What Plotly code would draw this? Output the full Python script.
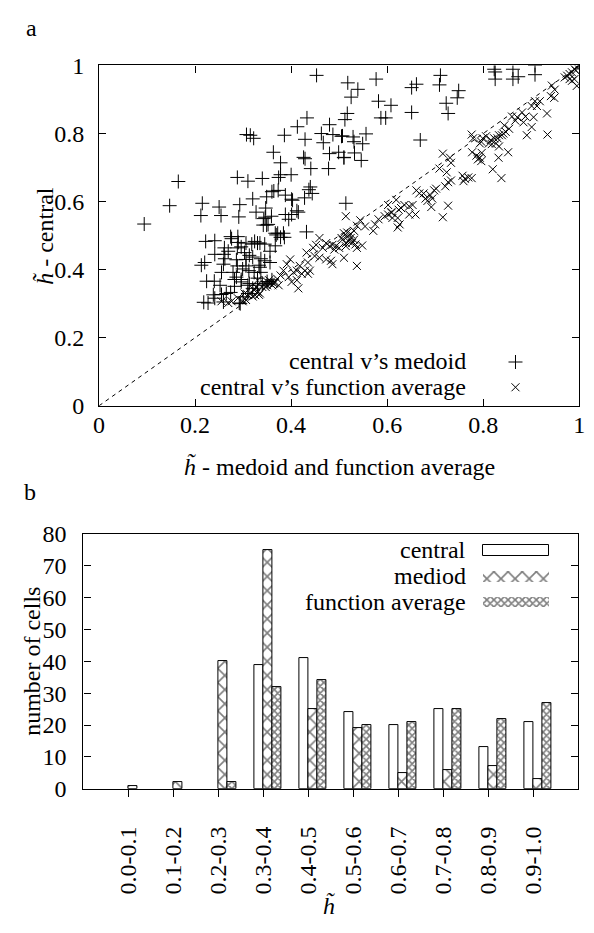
import plotly.graph_objects as go

W, H = 594, 933
FONT = "'Liberation Serif', 'Times New Roman', 'DejaVu Serif', serif"
FS = 24

# ---------------- panel a : scatter data ----------------
# "+" : h~ of central (y) vs h~ of medoid (x)
MEDOID_X = [
    0.453, 0.433, 0.413, 0.480, 0.307, 0.315, 0.322, 0.386, 0.463, 0.487, 0.505, 0.429, 0.467,
    0.363, 0.426, 0.429, 0.480, 0.499, 0.510, 0.378, 0.441, 0.478, 0.288, 0.310, 0.340, 0.374,
    0.378, 0.400, 0.165, 0.440, 0.437, 0.444, 0.360, 0.373, 0.364, 0.349, 0.388, 0.401, 0.428,
    0.320, 0.147, 0.215, 0.250, 0.293, 0.347, 0.212, 0.254, 0.291, 0.327, 0.346, 0.359, 0.388,
    0.401, 0.415, 0.395, 0.094, 0.342, 0.349, 0.352, 0.432, 0.367, 0.384,
    0.518, 0.577, 0.539, 0.525, 0.651, 0.661, 0.711, 0.709, 0.823, 0.825, 0.825, 0.862, 0.862,
    0.873, 0.908, 0.908, 0.749, 0.746, 0.582, 0.608, 0.723, 0.727, 0.517, 0.512, 0.651, 0.587,
    0.597, 0.507, 0.529, 0.531, 0.549, 0.556, 0.669, 0.532, 0.510, 0.546, 0.514, 0.403, 0.412,
    0.343, 0.241, 0.276, 0.290, 0.296, 0.288, 0.261, 0.269, 0.318, 0.330, 0.345, 0.356, 0.367,
    0.372, 0.378, 0.386, 0.369, 0.303, 0.313, 0.320, 0.262, 0.259, 0.286, 0.288, 0.337, 0.345,
    0.356, 0.333, 0.213, 0.220, 0.255, 0.279, 0.286, 0.299, 0.312, 0.282, 0.296, 0.335, 0.337,
    0.240, 0.252, 0.282, 0.310, 0.330, 0.238, 0.265, 0.274, 0.227, 0.259, 0.294,
    0.222, 0.274, 0.289, 0.306, 0.324, 0.335, 0.241, 0.260, 0.224, 0.218, 0.241, 0.255, 0.292,
    0.296, 0.313, 0.323, 0.330, 0.306, 0.306, 0.320, 0.340, 0.350, 0.360, 0.310, 0.300,
]
MEDOID_CENTRAL_Y = [
    0.971, 0.846, 0.820, 0.826, 0.797, 0.795, 0.786, 0.795, 0.800, 0.797, 0.792, 0.783, 0.773,
    0.745, 0.730, 0.726, 0.741, 0.745, 0.730, 0.714, 0.697, 0.697, 0.671, 0.660, 0.668, 0.671,
    0.679, 0.679, 0.659, 0.643, 0.635, 0.624, 0.629, 0.633, 0.631, 0.614, 0.619, 0.607, 0.611,
    0.608, 0.588, 0.595, 0.584, 0.591, 0.581, 0.559, 0.559, 0.555, 0.569, 0.554, 0.557, 0.562,
    0.562, 0.569, 0.548, 0.534, 0.531, 0.531, 0.533, 0.511, 0.507, 0.507,
    0.949, 0.960, 0.930, 0.907, 0.935, 0.945, 0.971, 0.943, 0.989, 0.981, 0.960, 0.989, 0.960,
    0.967, 0.973, 1.000, 0.926, 0.905, 0.895, 0.883, 0.889, 0.859, 0.859, 0.841, 0.862, 0.846,
    0.846, 0.793, 0.790, 0.776, 0.770, 0.799, 0.781, 0.743, 0.729, 0.721, 0.595, 0.604, 0.573,
    0.550, 0.485, 0.491, 0.480, 0.467, 0.464, 0.464, 0.454, 0.475, 0.478, 0.475, 0.454, 0.470,
    0.507, 0.495, 0.495, 0.502, 0.450, 0.442, 0.437, 0.432, 0.416, 0.429, 0.411, 0.432, 0.426,
    0.421, 0.413, 0.413, 0.421, 0.392, 0.392, 0.378, 0.402, 0.397, 0.371, 0.371, 0.407, 0.392,
    0.366, 0.354, 0.351, 0.354, 0.375, 0.326, 0.330, 0.333, 0.302, 0.305, 0.300,
    0.483, 0.497, 0.497, 0.478, 0.483, 0.478, 0.445, 0.445, 0.366, 0.304, 0.316, 0.327, 0.302,
    0.364, 0.359, 0.392, 0.354, 0.411, 0.430, 0.345, 0.360, 0.365, 0.370, 0.330, 0.320,
]

# "x" : h~ of central (y) vs h~ of function average (x)
FAVG_X = [
    0.990, 0.995, 0.985, 0.980, 0.975, 0.990, 0.985, 0.995, 0.970, 1.000, 0.993, 0.980,
    0.943, 0.949, 0.941, 0.948, 0.908, 0.918, 0.901, 0.912, 0.933, 0.934, 0.881, 0.871, 0.867,
    0.884, 0.905, 0.891, 0.901, 0.888, 0.860,
    0.844, 0.854, 0.839, 0.842, 0.847, 0.833, 0.830, 0.823, 0.827, 0.816, 0.812, 0.799, 0.796,
    0.793, 0.776, 0.779, 0.806,
    0.777, 0.786, 0.793, 0.796, 0.789, 0.797, 0.833, 0.832, 0.852, 0.820, 0.838, 0.818,
    0.716, 0.731, 0.733, 0.709, 0.724, 0.727, 0.733, 0.721, 0.757, 0.762, 0.769, 0.776, 0.759,
    0.661, 0.667, 0.676, 0.680, 0.690, 0.698, 0.702, 0.694, 0.684, 0.692, 0.727, 0.716,
    0.653, 0.646, 0.636, 0.629, 0.624, 0.619, 0.609, 0.602, 0.611, 0.622, 0.626, 0.622, 0.646,
    0.659, 0.595, 0.602,
    0.575, 0.582, 0.554, 0.571, 0.537, 0.531, 0.514, 0.517, 0.524, 0.544, 0.609,
    0.510, 0.517, 0.524, 0.531, 0.520, 0.527, 0.534, 0.514, 0.537, 0.548, 0.505, 0.510, 0.537,
    0.500, 0.507, 0.514,
    0.459, 0.473, 0.480, 0.486, 0.493, 0.490, 0.466, 0.452, 0.446,
    0.483, 0.486, 0.473, 0.459, 0.449,
    0.432, 0.435, 0.439, 0.429, 0.422, 0.435, 0.418, 0.412, 0.405,
    0.398, 0.391, 0.384, 0.378, 0.395, 0.401, 0.412, 0.415, 0.371, 0.364, 0.374,
    0.354, 0.357, 0.361, 0.350, 0.344, 0.347, 0.340, 0.352, 0.358, 0.365,
    0.330, 0.327, 0.323, 0.333, 0.316, 0.310, 0.320, 0.303, 0.306, 0.299, 0.289,
    0.269, 0.276, 0.255, 0.330, 0.335, 0.325,
]
FAVG_CENTRAL_Y = [
    0.990, 0.995, 0.980, 0.975, 0.970, 0.960, 0.955, 0.940, 0.965, 1.000, 0.985, 0.960,
    0.941, 0.929, 0.910, 0.905, 0.895, 0.895, 0.881, 0.881, 0.859, 0.797, 0.862, 0.848, 0.838,
    0.833, 0.848, 0.795, 0.819, 0.850, 0.850,
    0.824, 0.814, 0.795, 0.800, 0.805, 0.795, 0.786, 0.786, 0.771, 0.781, 0.771, 0.786, 0.776,
    0.771, 0.797, 0.786, 0.792,
    0.745, 0.735, 0.729, 0.719, 0.724, 0.743, 0.762, 0.729, 0.745, 0.695, 0.669, 0.769,
    0.741, 0.729, 0.714, 0.697, 0.686, 0.657, 0.662, 0.645, 0.676, 0.667, 0.671, 0.669, 0.660,
    0.633, 0.624, 0.624, 0.609, 0.619, 0.633, 0.638, 0.609, 0.602, 0.584, 0.588, 0.554,
    0.590, 0.586, 0.590, 0.581, 0.576, 0.605, 0.567, 0.562, 0.552, 0.552, 0.533, 0.524, 0.562,
    0.562, 0.557, 0.590,
    0.533, 0.548, 0.527, 0.514, 0.529, 0.514, 0.557, 0.509, 0.505, 0.545, 0.569,
    0.507, 0.497, 0.493, 0.488, 0.483, 0.479, 0.474, 0.469, 0.464, 0.471, 0.493, 0.435, 0.411,
    0.464, 0.488, 0.478,
    0.493, 0.478, 0.469, 0.473, 0.469, 0.459, 0.464, 0.473, 0.464,
    0.426, 0.416, 0.430, 0.435, 0.440,
    0.450, 0.421, 0.397, 0.397, 0.388, 0.388, 0.411, 0.397, 0.392,
    0.430, 0.416, 0.397, 0.383, 0.378, 0.364, 0.369, 0.345, 0.373, 0.359, 0.354,
    0.369, 0.359, 0.354, 0.354, 0.359, 0.349, 0.349, 0.362, 0.365, 0.362,
    0.369, 0.349, 0.340, 0.326, 0.330, 0.326, 0.321, 0.330, 0.311, 0.307, 0.316,
    0.302, 0.307, 0.307, 0.335, 0.330, 0.325,
]
DIAG = [0, 1]
A_TICKS = [0, 0.2, 0.4, 0.6, 0.8, 1]

# ---------------- panel b : histogram data ----------------
BINS = ["0.0-0.1", "0.1-0.2", "0.2-0.3", "0.3-0.4", "0.4-0.5",
        "0.5-0.6", "0.6-0.7", "0.7-0.8", "0.8-0.9", "0.9-1.0"]
CENTRAL = [0, 0, 0, 39, 41, 24, 20, 25, 13, 21]
MEDIOD = [1, 2, 40, 75, 25, 19, 5, 6, 7, 3]
FUNC_AVG = [0, 0, 2, 32, 34, 20, 21, 25, 22, 27]
B_TICKS = [0, 10, 20, 30, 40, 50, 60, 70, 80]
XPOS = list(range(len(BINS)))


def px(v):
    return v / W


def py(v):
    return 1 - v / H


BLACK = "black"
fig = go.Figure()

# ---- panel a traces ----
fig.add_trace(go.Scatter(x=DIAG, y=DIAG, mode="lines",
                         line=dict(color=BLACK, width=1, dash="4px,4px"),
                         xaxis="x", yaxis="y", showlegend=False, hoverinfo="skip"))
MARK_PLUS = dict(symbol="cross-thin", size=10, color=BLACK, line=dict(color=BLACK, width=1))
MARK_X = dict(symbol="x-thin", size=8, color=BLACK, line=dict(color=BLACK, width=1))
fig.add_trace(go.Scatter(x=MEDOID_X, y=MEDOID_CENTRAL_Y, mode="markers", marker=MARK_PLUS,
                         xaxis="x", yaxis="y", showlegend=False))
fig.add_trace(go.Scatter(x=FAVG_X, y=FAVG_CENTRAL_Y, mode="markers", marker=MARK_X,
                         xaxis="x", yaxis="y", showlegend=False))


# ---- panel b traces ----
def outline(vals):
    # no outline for empty (zero-height) bars
    return dict(color=BLACK, width=[1 if v else 0 for v in vals])


PAT_MEDIOD = dict(shape="x", size=10, solidity=0.3, fgcolor=BLACK,
                  bgcolor="white", fillmode="overlay")
PAT_FAVG = dict(shape="x", size=5, solidity=0.55, fgcolor=BLACK,
                bgcolor="white", fillmode="overlay")
BW = 0.2
fig.add_trace(go.Bar(x=XPOS, y=CENTRAL, offset=-BW, width=BW,
                     marker=dict(color="white", line=outline(CENTRAL)),
                     xaxis="x2", yaxis="y2", showlegend=False))
fig.add_trace(go.Bar(x=XPOS, y=MEDIOD, offset=0, width=BW,
                     marker=dict(color="white", line=outline(MEDIOD), pattern=PAT_MEDIOD),
                     xaxis="x2", yaxis="y2", showlegend=False))
fig.add_trace(go.Bar(x=XPOS, y=FUNC_AVG, offset=BW, width=BW,
                     marker=dict(color="white", line=outline(FUNC_AVG), pattern=PAT_FAVG),
                     xaxis="x2", yaxis="y2", showlegend=False))

# ---- legend keys (drawn on a hidden pixel-space axis) ----
KEY_X_A = 520
KEY_Y_A = [359, 385]
fig.add_trace(go.Scatter(x=[KEY_X_A], y=[KEY_Y_A[0]], mode="markers", marker=MARK_PLUS,
                         xaxis="x3", yaxis="y3", showlegend=False, hoverinfo="skip"))
fig.add_trace(go.Scatter(x=[KEY_X_A], y=[KEY_Y_A[1]], mode="markers", marker=MARK_X,
                         xaxis="x3", yaxis="y3", showlegend=False, hoverinfo="skip"))
KEY_B_START, KEY_B_LEN, KEY_B_H = 487, 67, 11
KEY_Y_B = [553, 580, 606]
KEY_STYLES = [
    dict(color="white", line=dict(color=BLACK, width=1)),
    dict(color="white", line=dict(width=0), pattern=PAT_MEDIOD),
    dict(color="white", line=dict(width=0), pattern=PAT_FAVG),
]
for ky, sty in zip(KEY_Y_B, KEY_STYLES):
    fig.add_trace(go.Bar(orientation="h", y=[ky], x=[KEY_B_LEN], base=[KEY_B_START],
                         width=KEY_B_H, marker=sty, xaxis="x3", yaxis="y3",
                         showlegend=False, hoverinfo="skip"))

TF = dict(family=FONT, size=FS, color=BLACK)
common = dict(showgrid=False, zeroline=False, showline=True, linecolor=BLACK, linewidth=1.2,
              tickcolor=BLACK, ticklen=7, tickwidth=1, tickfont=TF)

fig.update_layout(
    width=W, height=H, margin=dict(l=0, r=0, t=0, b=0),
    paper_bgcolor="white", plot_bgcolor="rgba(0,0,0,0)",
    barmode="overlay", bargap=0, showlegend=False,
    font=TF,
    xaxis=dict(common, domain=[px(95), px(585)], range=[0, 1], anchor="y",
               tickvals=A_TICKS, ticks="inside", mirror="ticks", ticklabelstandoff=-3),
    yaxis=dict(common, domain=[py(404), py(54)], range=[0, 1], anchor="x",
               tickvals=A_TICKS, ticks="inside", mirror="ticks", ticklabelstandoff=9),
    xaxis2=dict(common, domain=[px(79), px(584)], range=[-1, 10], anchor="y2",
                tickvals=XPOS, ticktext=BINS, ticks="outside", mirror=True,
                tickangle=-90, ticklabelstandoff=20),
    yaxis2=dict(common, domain=[py(798), py(536)], range=[0, 80], anchor="x2",
                tickvals=B_TICKS, ticks="inside", mirror="ticks", ticklabelstandoff=11),
    xaxis3=dict(domain=[0, 1], range=[0, W], anchor="y3", visible=False, fixedrange=True),
    yaxis3=dict(domain=[0, 1], range=[H, 0], anchor="x3", visible=False, fixedrange=True),
)

HT = "<i>h\u0303</i>"
ann = [
    ("a", 26, 15, 0, "center"),
    ("b", 25, 493, 0, "center"),
    (HT + " - medoid and function average", 340, 466, 0, "center"),
    (HT + " - central", 40, 229, -90, "center"),
    ("central v\u2019s medoid", 472, 358, 0, "right"),
    ("central v\u2019s function average", 472, 385, 0, "right"),
    ("number of cells", 27, 667, -90, "center"),
    (HT, 330, 918, 0, "center"),
    ("central", 472, 552, 0, "right"),
    ("mediod", 472, 579, 0, "right"),
    ("function average", 472, 606, 0, "right"),
]
for text, ax, ay, ang, anchor in ann:
    fig.add_annotation(text=text, x=px(ax), y=py(ay), xref="paper", yref="paper",
                       showarrow=False, textangle=ang, xanchor=anchor, yanchor="middle",
                       font=TF)

fig.write_html("out.html")
